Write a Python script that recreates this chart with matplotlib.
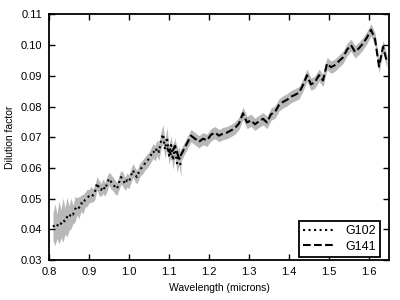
import matplotlib
matplotlib.use("Agg")
import matplotlib.pyplot as plt
import numpy as np

plt.rcParams["font.family"] = ["Liberation Sans", "DejaVu Sans"]

# G102 grism (short wavelengths)
wave_g102 = [0.810, 0.815, 0.820, 0.825, 0.830, 0.835, 0.840, 0.845, 0.850, 0.855,
             0.860, 0.865, 0.870, 0.875, 0.880, 0.885, 0.890, 0.895, 0.900, 0.905,
             0.910, 0.915, 0.920, 0.925, 0.930, 0.935, 0.940, 0.945, 0.950, 0.955,
             0.960, 0.965, 0.970, 0.975, 0.980, 0.985, 0.990, 0.995, 1.000, 1.005,
             1.010, 1.015, 1.020, 1.025, 1.030, 1.035, 1.040, 1.045, 1.050, 1.055,
             1.060, 1.065, 1.070, 1.075, 1.080, 1.085, 1.090, 1.095, 1.100, 1.105,
             1.110, 1.115, 1.120, 1.125, 1.130]
dil_g102 = [0.0408, 0.0415, 0.0410, 0.0422, 0.0418, 0.0430, 0.0426, 0.0440, 0.0436, 0.0452,
            0.0448, 0.0465, 0.0475, 0.0470, 0.0485, 0.0482, 0.0496, 0.0502, 0.0508, 0.0514,
            0.0510, 0.0522, 0.0550, 0.0535, 0.0528, 0.0540, 0.0530, 0.0548, 0.0565, 0.0555,
            0.0548, 0.0538, 0.0532, 0.0552, 0.0570, 0.0562, 0.0548, 0.0560, 0.0555, 0.0575,
            0.0592, 0.0578, 0.0570, 0.0588, 0.0598, 0.0605, 0.0615, 0.0622, 0.0630, 0.0642,
            0.0655, 0.0648, 0.0665, 0.0652, 0.0690, 0.0710, 0.0660, 0.0700, 0.0640, 0.0675,
            0.0625, 0.0668, 0.0615, 0.0640, 0.0600]
err_g102 = [0.0045, 0.0068, 0.0040, 0.0070, 0.0045, 0.0072, 0.0042, 0.0065, 0.0040, 0.0050,
            0.0030, 0.0042, 0.0028, 0.0036, 0.0026, 0.0032, 0.0024, 0.0028, 0.0022, 0.0026,
            0.0021, 0.0024, 0.0022, 0.0025, 0.0021, 0.0024, 0.0022, 0.0024, 0.0021, 0.0024,
            0.0022, 0.0023, 0.0021, 0.0023, 0.0022, 0.0023, 0.0021, 0.0023, 0.0022, 0.0023,
            0.0022, 0.0023, 0.0022, 0.0023, 0.0022, 0.0023, 0.0022, 0.0023, 0.0022, 0.0023,
            0.0024, 0.0025, 0.0026, 0.0027, 0.0028, 0.0030, 0.0030, 0.0031, 0.0030, 0.0031,
            0.0030, 0.0031, 0.0030, 0.0031, 0.0030]

# G141 grism (long wavelengths)
wave_g141 = [1.095, 1.105, 1.115, 1.125, 1.135, 1.145, 1.155, 1.165, 1.175, 1.185,
             1.195, 1.205, 1.215, 1.225, 1.235, 1.245, 1.255, 1.265, 1.275, 1.285,
             1.295, 1.305, 1.315, 1.325, 1.335, 1.345, 1.355, 1.365, 1.375, 1.385,
             1.395, 1.405, 1.415, 1.425, 1.435, 1.445, 1.455, 1.465, 1.475, 1.485,
             1.495, 1.505, 1.515, 1.525, 1.535, 1.545, 1.555, 1.565, 1.575, 1.585,
             1.595, 1.605, 1.615, 1.625, 1.635, 1.645]
dil_g141 = [0.0665, 0.0645, 0.0672, 0.0630, 0.0655, 0.0680, 0.0705, 0.0695, 0.0685, 0.0695,
            0.0690, 0.0708, 0.0715, 0.0705, 0.0712, 0.0715, 0.0722, 0.0730, 0.0745, 0.0778,
            0.0748, 0.0755, 0.0742, 0.0752, 0.0760, 0.0748, 0.0775, 0.0782, 0.0805, 0.0815,
            0.0822, 0.0832, 0.0838, 0.0845, 0.0870, 0.0902, 0.0872, 0.0880, 0.0902, 0.0885,
            0.0940, 0.0928, 0.0935, 0.0948, 0.0960, 0.0985, 0.1000, 0.0978, 0.0990, 0.1005,
            0.1025, 0.1050, 0.1020, 0.0930, 0.0995, 0.0945]
err_g141 = [0.0020] * len(wave_g141)

fig = plt.figure(figsize=(4, 3), dpi=100)
ax = fig.add_axes([0.1225, 0.1333, 0.85, 0.8187])

lo = np.array(dil_g102) - np.array(err_g102)
hi = np.array(dil_g102) + np.array(err_g102)
ax.fill_between(wave_g102, lo, hi, color="0.72", lw=0)
lo = np.array(dil_g141) - np.array(err_g141)
hi = np.array(dil_g141) + np.array(err_g141)
ax.fill_between(wave_g141, lo, hi, color="0.72", lw=0)

ax.plot(wave_g102, dil_g102, color="k", ls=":", lw=1.5, label="G102")
ax.plot(wave_g141, dil_g141, color="k", ls="--", lw=1.5, label="G141")

ax.set_xlim(0.8, 1.65)
ax.set_ylim(0.03, 0.11)
ax.set_xticks([0.8, 0.9, 1.0, 1.1, 1.2, 1.3, 1.4, 1.5, 1.6])
ax.set_yticks([0.03, 0.04, 0.05, 0.06, 0.07, 0.08, 0.09, 0.10, 0.11])
ax.tick_params(direction="in", top=True, right=True, labelsize=8, length=4, width=1, pad=5)
for s in ax.spines.values():
    s.set_linewidth(1.3)

ax.set_xlabel("Wavelength (microns)", fontsize=7.5)
ax.set_ylabel("Dilution factor", fontsize=7.5)

leg = ax.legend(loc="lower right", bbox_to_anchor=(0.975, 0.012), fontsize=9,
                fancybox=False, framealpha=1, edgecolor="k", handlelength=2.6,
                borderpad=0.35, labelspacing=0.3, borderaxespad=0)
leg.get_frame().set_linewidth(1.3)

fig.savefig("out.png", dpi=100)
